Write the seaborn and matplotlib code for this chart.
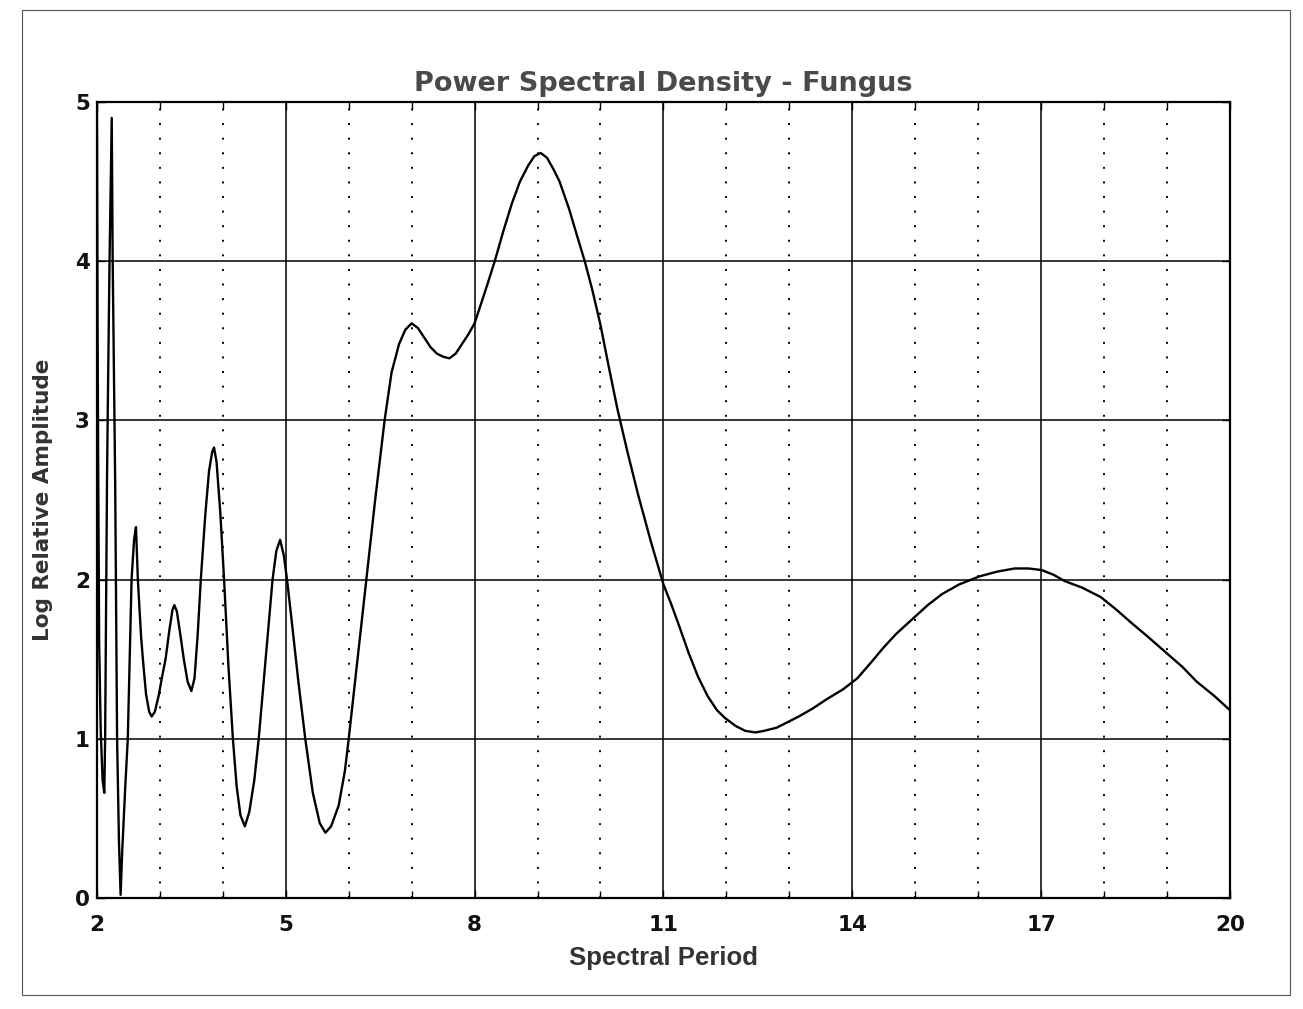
import matplotlib
matplotlib.use("Agg")
import matplotlib.pyplot as plt
from matplotlib.ticker import MultipleLocator, FixedLocator
from matplotlib.patches import Rectangle
import seaborn as sns
import pandas as pd

# ---- data ----
period = [2.00, 2.01, 2.02, 2.035, 2.06, 2.09, 2.117, 2.13, 2.16, 2.17, 2.20, 2.235,
          2.25, 2.29, 2.32, 2.35, 2.376, 2.40, 2.45, 2.49, 2.55, 2.59, 2.62, 2.65,
          2.70, 2.73, 2.78, 2.83, 2.87, 2.92, 2.98, 3.04, 3.09, 3.15, 3.20, 3.23,
          3.27, 3.33, 3.38, 3.44, 3.50, 3.55, 3.60, 3.65, 3.72, 3.78, 3.83, 3.86,
          3.90, 3.96, 4.02, 4.09, 4.16, 4.22, 4.28, 4.35, 4.42, 4.50, 4.57, 4.68,
          4.79, 4.85, 4.91, 4.97, 5.02, 5.10, 5.20, 5.31, 5.43, 5.54, 5.63, 5.72,
          5.84, 5.94, 6.00, 6.14, 6.28, 6.42, 6.57, 6.68, 6.80, 6.90, 7.00, 7.10,
          7.20, 7.30, 7.40, 7.50, 7.60, 7.70, 7.80, 7.90, 8.00, 8.10, 8.20, 8.32,
          8.45, 8.59, 8.72, 8.85, 8.95, 9.05, 9.15, 9.25, 9.35, 9.50, 9.62, 9.75,
          9.87, 10.00, 10.13, 10.27, 10.43, 10.60, 10.80, 11.00, 11.12, 11.24, 11.40,
          11.55, 11.70, 11.85, 11.98, 12.15, 12.30, 12.46, 12.60, 12.80, 12.95, 13.15,
          13.37, 13.60, 13.85, 14.08, 14.30, 14.49, 14.70, 14.95, 15.20, 15.43, 15.70,
          16.02, 16.30, 16.58, 16.80, 17.01, 17.20, 17.38, 17.65, 17.95, 18.20, 18.43,
          18.70, 18.99, 19.25, 19.47, 19.75, 20.00]

log_amplitude = [5.00, 3.60, 2.70, 1.60, 1.05, 0.74, 0.66, 1.00, 2.63, 3.00, 4.00, 4.90,
                 4.00, 2.60, 1.00, 0.35, 0.02, 0.28, 0.70, 1.00, 2.00, 2.25, 2.33, 2.00,
                 1.65, 1.50, 1.28, 1.17, 1.14, 1.17, 1.27, 1.40, 1.50, 1.68, 1.81, 1.84,
                 1.80, 1.64, 1.50, 1.36, 1.30, 1.38, 1.65, 2.00, 2.40, 2.68, 2.80, 2.83,
                 2.74, 2.42, 2.00, 1.45, 1.00, 0.70, 0.52, 0.45, 0.54, 0.74, 1.00, 1.50,
                 2.00, 2.18, 2.25, 2.15, 2.00, 1.72, 1.36, 1.00, 0.66, 0.47, 0.41, 0.45,
                 0.58, 0.80, 1.00, 1.50, 2.00, 2.50, 3.00, 3.30, 3.48, 3.57, 3.61, 3.58,
                 3.52, 3.46, 3.42, 3.40, 3.39, 3.42, 3.48, 3.54, 3.61, 3.73, 3.85, 4.00,
                 4.18, 4.36, 4.50, 4.60, 4.66, 4.68, 4.65, 4.58, 4.50, 4.33, 4.17, 4.00,
                 3.82, 3.60, 3.34, 3.07, 2.80, 2.53, 2.24, 1.97, 1.85, 1.72, 1.54,
                 1.39, 1.27, 1.18, 1.13, 1.08, 1.05, 1.04, 1.05, 1.07, 1.10, 1.14,
                 1.19, 1.25, 1.31, 1.38, 1.48, 1.57, 1.66, 1.75, 1.84, 1.91, 1.97,
                 2.02, 2.05, 2.07, 2.07, 2.06, 2.03, 1.99, 1.95, 1.89, 1.81, 1.73,
                 1.64, 1.54, 1.45, 1.36, 1.27, 1.18]

x_ticks = [2, 5, 8, 11, 14, 17, 20]
y_ticks = [0, 1, 2, 3, 4, 5]

title = "Power Spectral Density - Fungus"
x_label = "Spectral Period"
y_label = "Log Relative Amplitude"

# ---- style ----
sns.set_style("white")
plt.rcParams["font.family"] = ["DejaVu Sans"]

df = pd.DataFrame({"period": period, "amp": log_amplitude})

fig = plt.figure(figsize=(13.03, 10.09), dpi=100)
ax = fig.add_axes([0.0744, 0.1100, 0.8695, 0.7889])

sns.lineplot(data=df, x="period", y="amp", sort=False, estimator=None,
             color="black", linewidth=1.7, ax=ax)

ax.set_xlim(2, 20)
ax.set_ylim(0, 5)
ax.xaxis.set_major_locator(FixedLocator(x_ticks))
ax.xaxis.set_minor_locator(MultipleLocator(1))
ax.yaxis.set_major_locator(FixedLocator(y_ticks))

ax.grid(which="major", axis="both", color="black", linewidth=1.1, linestyle="-")
ax.grid(which="minor", axis="x", color="black", linewidth=1.4,
        linestyle=(0, (1, 6.5)))
ax.set_axisbelow(True)

for s in ax.spines.values():
    s.set_visible(True)
    s.set_color("black")
    s.set_linewidth(1.6)

ax.tick_params(which="both", direction="in", top=True, right=True,
               bottom=True, left=True, color="black")
ax.tick_params(which="major", length=6, width=1.0)
ax.tick_params(which="minor", length=5, width=1.0)
ax.tick_params(axis="x", which="major", pad=12)
ax.tick_params(axis="y", which="major", pad=5)

for lab in ax.get_xticklabels() + ax.get_yticklabels():
    lab.set_fontfamily("DejaVu Sans")
    lab.set_fontweight("bold")
    lab.set_fontsize(15.5)
    lab.set_color("#111111")

ax.set_title(title, fontsize=19.5, fontweight="bold", color="#4a4a4a",
             family="DejaVu Sans", pad=8)
ax.set_xlabel(x_label, fontsize=18.5, fontweight="bold", color="#333333",
              family="Liberation Sans", labelpad=8)
ax.set_ylabel(y_label, fontsize=15.5, fontweight="bold", color="#333333",
              family="DejaVu Sans", labelpad=16)

# outer page frame
fig.add_artist(Rectangle((22 / 1303, 1 - 995 / 1009), (1290 - 22) / 1303,
                         (995 - 10) / 1009, transform=fig.transFigure,
                         fill=False, linewidth=0.8, edgecolor="#555555"))

fig.savefig("out.png", dpi=100, facecolor="white")
